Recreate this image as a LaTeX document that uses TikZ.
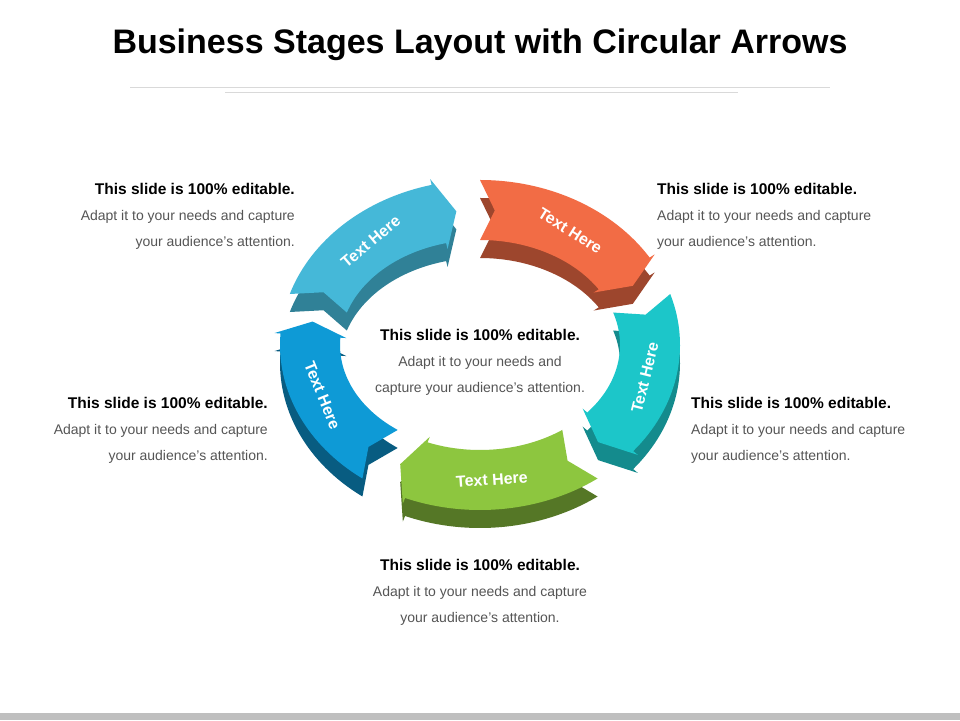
\documentclass[tikz,border=0pt]{standalone}
\usepackage{fontspec}
\setmainfont{Liberation Sans}
\usetikzlibrary{positioning}
\definecolor{skyblue}{HTML}{45B8D8}
\definecolor{orangered}{HTML}{F26C45}
\definecolor{tealc}{HTML}{1CC6C9}
\definecolor{greenc}{HTML}{8DC63F}
\definecolor{bluec}{HTML}{0E9AD6}
\definecolor{textgray}{HTML}{555555}
\tikzset{
  textblock/.style={inner sep=0pt, font=\fontsize{14}{26}\selectfont, text=textgray},
  ringlabel/.style={font=\bfseries\fontsize{16}{18}\selectfont, text=white},
}
\newcommand{\headline}{{\color{black}\fontsize{15.5}{26}\selectfont\bfseries This slide is 100\% editable.}}
% one stage arrow: start angle, end angle (clockwise), colour, y shift
\newcommand{\stagearrow}[4]{%
  \fill[#3, yshift=#4] ({480+200*cos(#1)},{375+165*sin(#1)})
    arc[start angle=#1, end angle=#2+6, x radius=200, y radius=165]
    -- ({480+206*cos(#2+6)},{375+171*sin(#2+6)})
    -- ({480+170*cos(#2)},{375+135*sin(#2)})
    -- ({480+134*cos(#2+6)},{375+99*sin(#2+6)})
    -- ({480+140*cos(#2+6)},{375+105*sin(#2+6)})
    arc[start angle=#2+6, end angle=#1, x radius=140, y radius=105]
    -- ({480+170*cos(#1-5)},{375+135*sin(#1-5)}) -- cycle;}
\begin{document}
\begin{tikzpicture}[x=1pt, y=1pt]
  \useasboundingbox (0,0) rectangle (960,720);
  \fill[white] (0,0) rectangle (960,720);
  \fill[black!25] (0,0) rectangle (960,7);
  % title
  \node (title) at (480,675) {\bfseries\fontsize{34}{38}\selectfont Business Stages Layout with Circular Arrows};
  \draw[black!15] (130,633) -- (830,633);
  \draw[black!15] (225,628) -- (738,628);
  % 3D sides
  \stagearrow{162}{98}{skyblue!70!black}{-18pt}
  \stagearrow{90}{26}{orangered!65!black}{-18pt}
  \stagearrow{18}{-46}{tealc!70!black}{-18pt}
  \stagearrow{-54}{-118}{greenc!60!black}{-18pt}
  \stagearrow{-126}{-190}{bluec!60!black}{-18pt}
  % tops
  \stagearrow{162}{98}{skyblue}{0pt}
  \stagearrow{90}{26}{orangered}{0pt}
  \stagearrow{18}{-46}{tealc}{0pt}
  \stagearrow{-54}{-118}{greenc}{0pt}
  \stagearrow{-126}{-190}{bluec}{0pt}
  % ring labels
  \node[ringlabel, rotate=40] (lab1) at ({480+170*cos(130)},{375+135*sin(130)}) {Text Here};
  \node[ringlabel, rotate=-32] (lab2) at ({480+170*cos(58)},{375+135*sin(58)}) {Text Here};
  \node[ringlabel, rotate=76] (lab3) at ({480+170*cos(-14)},{375+135*sin(-14)}) {Text Here};
  \node[ringlabel, rotate=4] (lab4) at ({480+170*cos(-86)},{375+135*sin(-86)}) {Text Here};
  \node[ringlabel, rotate=-68] (lab5) at ({480+170*cos(-158)},{375+135*sin(-158)}) {Text Here};
  % text blocks
  \node[textblock, anchor=north east, align=right] (tl) at (295,537)
    {\headline\\ Adapt it to your needs and capture\\ your audience’s attention.};
  \node[textblock, anchor=north west, align=left] (tr) at (657,537)
    {\headline\\ Adapt it to your needs and capture\\ your audience’s attention.};
  \node[textblock, anchor=north east, align=right] (ml) at (268,323)
    {\headline\\ Adapt it to your needs and capture\\ your audience’s attention.};
  \node[textblock, anchor=north west, align=left] (mr) at (691,323)
    {\headline\\ Adapt it to your needs and capture\\ your audience’s attention.};
  \node[textblock, anchor=north, align=center] (ctr) at (480,391)
    {\headline\\ Adapt it to your needs and\\ capture your audience’s attention.};
  \node[textblock, anchor=north, align=center] (bot) at (480,161)
    {\headline\\ Adapt it to your needs and capture\\ your audience’s attention.};
\end{tikzpicture}
\end{document}
